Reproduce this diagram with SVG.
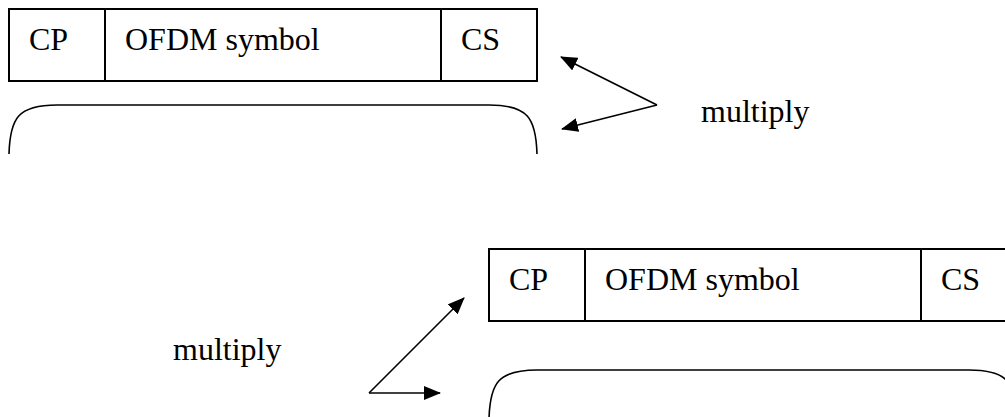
<svg xmlns="http://www.w3.org/2000/svg" width="1005" height="417" viewBox="0 0 1005 417">
<defs>
<style>
.box{fill:#fff;stroke:#000;stroke-width:2}
.div{stroke:#000;stroke-width:2}
.brace{fill:none;stroke:#000;stroke-width:1.6}
.arr{fill:none;stroke:#000;stroke-width:1.6;marker-end:url(#ah)}
text{font-family:"Liberation Serif","Times New Roman",serif;font-size:32px;fill:#000}
</style>
<marker id="ah" markerUnits="userSpaceOnUse" markerWidth="18" markerHeight="14" refX="16" refY="7" orient="auto" viewBox="0 0 18 14">
<path d="M0,0 L17,7 L0,14 Z" fill="#000"/>
</marker>
</defs>
<rect width="1005" height="417" fill="#fff"/>
<g id="frame-top">
<rect class="box" x="9" y="9" width="528" height="72"/>
<line class="div" x1="105" y1="9" x2="105" y2="81"/>
<line class="div" x1="441" y1="9" x2="441" y2="81"/>
<text x="29" y="50">CP</text>
<text x="125" y="50">OFDM symbol</text>
<text x="461" y="50">CS</text>
</g>
<g id="brace-top">
<path class="brace" d="M9,154 C10,118 18,105 57,105 L489,105 C528,105 536,118 537,154"/>
</g>
<g id="label-top">
<text x="701" y="122">multiply</text>
</g>
<g id="frame-bottom">
<rect class="box" x="489" y="249" width="528" height="72"/>
<line class="div" x1="585" y1="249" x2="585" y2="321"/>
<line class="div" x1="921" y1="249" x2="921" y2="321"/>
<text x="509" y="290">CP</text>
<text x="605" y="290">OFDM symbol</text>
<text x="941" y="290">CS</text>
</g>
<g id="brace-bottom">
<path class="brace" d="M489,419 C490,383 498,370 537,370 L969,370 C1008,370 1016,383 1017,419"/>
</g>
<g id="label-bottom">
<text x="173" y="360">multiply</text>
</g>
<g id="connectors">
<line class="arr" x1="657" y1="105" x2="561" y2="57"/>
<line class="arr" x1="657" y1="105" x2="562" y2="129"/>
<line class="arr" x1="369" y1="393" x2="464" y2="298"/>
<line class="arr" x1="369" y1="393" x2="440" y2="393"/>
</g>
</svg>
